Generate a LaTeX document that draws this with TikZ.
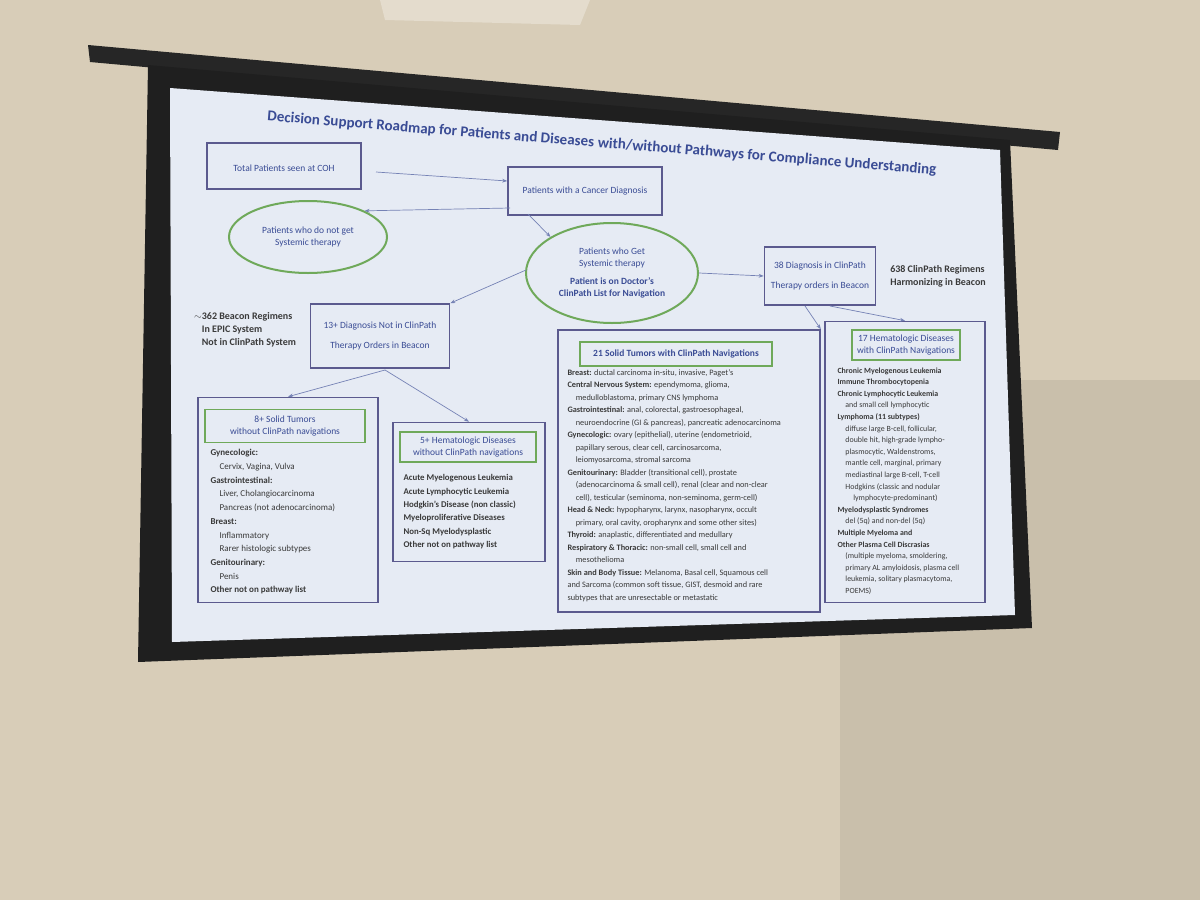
\documentclass[tikz,border=0pt]{standalone}
\usepackage{fontspec}
\setmainfont{Carlito}
\usetikzlibrary{shapes.geometric,arrows.meta,calc}
\definecolor{wall}{HTML}{D8CDB8}
\definecolor{slide}{HTML}{E6EBF4}
\definecolor{bx}{HTML}{5B5A8E}
\definecolor{ttl}{HTML}{3A4C95}
\definecolor{txt}{HTML}{3A3A3A}
\definecolor{grn}{HTML}{6FA95A}
\begin{document}
\begin{tikzpicture}[x=1pt,y=-1pt,
  box/.style={draw=bx,line width=1.6pt,fill=slide,text=ttl,align=center,font=\fontsize{9.5}{12}\selectfont},
  outer/.style={draw=bx,line width=1.6pt,fill=slide},
  head/.style={draw=grn,line width=1.3pt,fill=slide,text=ttl,align=center,font=\fontsize{9.5}{12.5}\selectfont},
  ell/.style={ellipse,draw=grn,line width=2pt,fill=slide,text=ttl,align=center,font=\fontsize{9.5}{12}\selectfont},
  body/.style={text=txt,align=left,anchor=north west,font=\fontsize{8.3}{12.5}\selectfont},
  side/.style={text=txt,align=left,font=\bfseries\fontsize{10}{13}\selectfont},
  ttlstyle/.style={text=ttl,font=\bfseries\fontsize{15}{16}\selectfont,rotate=-4.6,inner sep=0pt},
  arr/.style={-{Stealth[length=5pt]},draw=ttl!70,line width=0.7pt}]
\useasboundingbox (0,0) rectangle (1200,900);
\fill[wall] (0,0) rectangle (1200,900);
\fill[wall!93!black] (840,380) rectangle (1200,900);
\fill[wall!70!white] (380,0) -- (590,0) -- (580,25) -- (385,20) -- cycle;
% screen
\fill[black!85] (88,45) -- (1060,132) -- (1058,150) -- (90,62) -- cycle;
\fill[black!88] (148,65) -- (1010,140) -- (1032,628) -- (138,662) -- cycle;
\fill[slide] (170,88) -- (1000,150) -- (1015,615) -- (172,642) -- cycle;
% title
\coordinate (tm) at (594,147);
\node[ttlstyle,anchor=base east] (title1) at (tm) {Decision Support Roadmap for Patients and Diseases};
\node[ttlstyle,anchor=base west] (title2) at (tm) {\ with/without Pathways for Compliance Understanding};
% top nodes
\draw[bx,line width=1.6pt,fill=slide] (207,143) rectangle (361,189);
\node[text=ttl,font=\fontsize{9.5}{12}\selectfont,inner sep=1pt] (tot) at (284,168) {Total Patients seen at COH};
\node[box,minimum width=154,minimum height=48] (dx) at (585,191) {Patients with a Cancer Diagnosis};
\node[ell,minimum width=158,minimum height=72] (nos) at (308,237) {Patients who do not get\\Systemic therapy};
\node[ell,minimum width=172,minimum height=100,inner sep=1pt] (sys) at (612,273) {Patients who Get\\Systemic therapy\\[6pt]\textbf{Patient is on Doctor's}\\\textbf{ClinPath List for Navigation}};
\node[box,minimum width=111,minimum height=58] (cp) at (820,276) {38 Diagnosis in ClinPath\\[8pt]Therapy orders in Beacon};
\node[side] (h638) at (938,276) {638 ClinPath Regimens\\Harmonizing in Beacon};
\node[side] (b362) at (245,330) {$\sim$362 Beacon Regimens\\\hphantom{$\sim$}In EPIC System\\\hphantom{$\sim$}Not in ClinPath System};
\node[box,minimum width=139,minimum height=64] (ncp) at (380,336) {13+ Diagnosis Not in ClinPath\\[8pt]Therapy Orders in Beacon};
% 8+ solid
\node[outer,minimum width=180,minimum height=205] (s8) at (288,500) {};
\node[head,minimum width=160,minimum height=33] (s8h) at (285,426) {8+ Solid Tumors\\without ClinPath navigations};
\node[body,font=\fontsize{9}{13.7}\selectfont] (s8b) at (207,446) {\textbf{Gynecologic:}\\\quad Cervix, Vagina, Vulva\\\textbf{Gastrointestinal:}\\\quad Liver, Cholangiocarcinoma\\\quad Pancreas (not adenocarcinoma)\\\textbf{Breast:}\\\quad Inflammatory\\\quad Rarer histologic subtypes\\\textbf{Genitourinary:}\\\quad Penis\\\textbf{Other not on pathway list}};
% 5+ heme
\node[outer,minimum width=152,minimum height=139] (h5) at (469,492) {};
\node[head,minimum width=136,minimum height=30] (h5h) at (468,447) {5+ Hematologic Diseases\\without ClinPath navigations};
\node[body,font=\bfseries\fontsize{8.8}{13.4}\selectfont] (h5b) at (400,471) {Acute Myelogenous Leukemia\\Acute Lymphocytic Leukemia\\Hodgkin's Disease (non classic)\\Myeloproliferative Diseases\\Non-Sq Myelodysplastic\\Other not on pathway list};
% 21 solid
\node[outer,minimum width=262,minimum height=282] (s21) at (689,471) {};
\node[head,minimum width=192,minimum height=24] (s21h) at (676,354) {\textbf{21 Solid Tumors with ClinPath Navigations}};
\node[body] (s21b) at (564,366) {\textbf{Breast:} ductal carcinoma in-situ, invasive, Paget's\\
\textbf{Central Nervous System:} ependymoma, glioma,\\
\quad medulloblastoma, primary CNS lymphoma\\
\textbf{Gastrointestinal:} anal, colorectal, gastroesophageal,\\
\quad neuroendocrine (GI \& pancreas), pancreatic adenocarcinoma\\
\textbf{Gynecologic:} ovary (epithelial), uterine (endometrioid,\\
\quad papillary serous, clear cell, carcinosarcoma,\\
\quad leiomyosarcoma, stromal sarcoma\\
\textbf{Genitourinary:} Bladder (transitional cell), prostate\\
\quad (adenocarcinoma \& small cell), renal (clear and non-clear\\
\quad cell), testicular (seminoma, non-seminoma, germ-cell)\\
\textbf{Head \& Neck:} hypopharynx, larynx, nasopharynx, occult\\
\quad primary, oral cavity, oropharynx and some other sites)\\
\textbf{Thyroid:} anaplastic, differentiated and medullary\\
\textbf{Respiratory \& Thoracic:} non-small cell, small cell and\\
\quad mesothelioma\\
\textbf{Skin and Body Tissue:} Melanoma, Basal cell, Squamous cell\\
and Sarcoma (common soft tissue, GIST, desmoid and rare\\
subtypes that are unresectable or metastatic};
% 17 heme
\node[outer,minimum width=160,minimum height=281] (h17) at (905,462) {};
\node[head,minimum width=108,minimum height=30] (h17h) at (906,345) {17 Hematologic Diseases\\with ClinPath Navigations};
\node[body,font=\fontsize{7.9}{11.6}\selectfont] (h17b) at (834,364) {\textbf{Chronic Myelogenous Leukemia}\\
\textbf{Immune Thrombocytopenia}\\
\textbf{Chronic Lymphocytic Leukemia}\\
\quad and small cell lymphocytic\\
\textbf{Lymphoma (11 subtypes)}\\
\quad diffuse large B-cell, follicular,\\
\quad double hit, high-grade lympho-\\
\quad plasmocytic, Waldenstroms,\\
\quad mantle cell, marginal, primary\\
\quad mediastinal large B-cell, T-cell\\
\quad Hodgkins (classic and nodular\\
\qquad lymphocyte-predominant)\\
\textbf{Myelodysplastic Syndromes}\\
\quad del (5q) and non-del (5q)\\
\textbf{Multiple Myeloma and}\\
\textbf{Other Plasma Cell Discrasias}\\
\quad (multiple myeloma, smoldering,\\
\quad primary AL amyloidosis, plasma cell\\
\quad leukemia, solitary plasmacytoma,\\
\quad POEMS)};
% arrows
\coordinate (a1) at (376,172);
\draw[arr] (a1) -- (dx.west |- 0,181);
\coordinate (a2) at (510,208);
\draw[arr] (a2) -- (nos.north east);
\coordinate (a3) at (528,214);
\draw[arr] (a3) -- (sys.north west);
\draw[arr] (sys.east) -- (cp.west);
\coordinate (a4) at (526,270);
\draw[arr] (a4) -- (ncp.north east);
\coordinate (a5) at (805,306);
\draw[arr] (a5) -- (s21.north east);
\coordinate (a6) at (830,306);
\draw[arr] (a6) -- (h17.north);
\coordinate (a7) at (385,370);
\draw[arr] (a7) -- (s8.north);
\draw[arr] (a7) -- (h5.north);
\end{tikzpicture}
\end{document}
